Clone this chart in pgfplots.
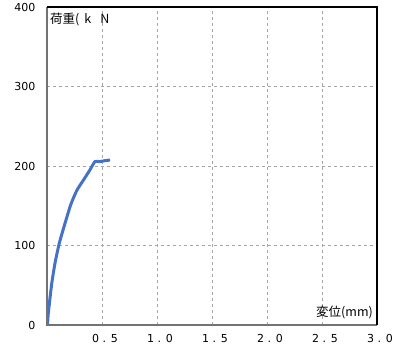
\documentclass[border=0pt]{standalone}
\usepackage{fontspec}
\setmainfont{DejaVu Sans}
\newfontfamily\cjk{Noto Sans CJK JP}
\usepackage{pgfplots}
\pgfplotsset{compat=1.18}
\begin{document}
\begin{tikzpicture}
\useasboundingbox (-47bp,-29bp) rectangle (348bp,325bp);
\begin{axis}[
  at={(0,0)}, anchor=south west,
  scale only axis, width=330bp, height=318bp,
  xmin=0, xmax=3, ymin=0, ymax=400,
  xtick={0.5,1,1.5,2,2.5,3},
  xticklabels={0 . 5,1 . 0,1 . 5,2 . 0,2 . 5,3 . 0},
  ytick={0,100,200,300,400},
  major tick length=0pt,
  /pgf/number format/assume math mode=true,
  tick label style={font=\fontsize{11bp}{13bp}\selectfont, text=black},
  xticklabel style={yshift=-6bp, xshift=3bp},
  yticklabel style={xshift=-8bp},
  grid=major,
  grid style={dashed, gray!70, line width=0.5bp},
  axis line style={draw=none},
  clip=false,
]
\addplot[color={rgb,255:red,68;green,114;blue,196}, line width=3bp, smooth, tension=0.4] coordinates {
(0.005,0) (0.01,12) (0.02,25) (0.043,52) (0.073,78) (0.112,103) (0.164,128) (0.215,151) (0.27,169) (0.33,182) (0.39,195) (0.436,205.5) (0.48,205.5) (0.527,206.7) (0.573,207.5)
};
\draw[gray!90!black, line width=2.2bp] (rel axis cs:0,1) -- (rel axis cs:0,0) -- (rel axis cs:1,0);
\draw[black, line width=2bp] (rel axis cs:0,1) -- (rel axis cs:1,1) -- (rel axis cs:1,0);
\node[anchor=north west, inner sep=0pt, font=\cjk\fontsize{12.5bp}{14bp}\selectfont] at ([xshift=3bp,yshift=-6bp]rel axis cs:0,1) {荷重(\hspace{5bp}k\hspace{9bp}N};
\node[anchor=south east, inner sep=0pt, font=\cjk\fontsize{12.5bp}{14bp}\selectfont] at ([xshift=-4bp,yshift=6bp]rel axis cs:1,0) {変位(mm)};
\end{axis}
\end{tikzpicture}
\end{document}
